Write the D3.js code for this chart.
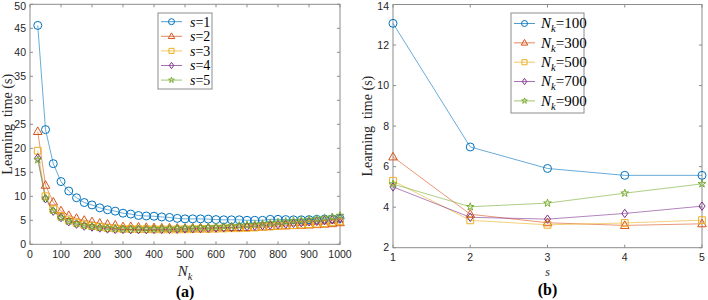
<!DOCTYPE html>
<html>
<head>
<meta charset="utf-8">
<script src="https://cdn.jsdelivr.net/npm/d3@7"></script>
<style>
  body { margin: 0; background: #fff; }
  svg { display: block; }
</style>
</head>
<body>
<div id="chart"></div>
<script>
// ---- data ----
const nkValues = d3.range(25, 1001, 25);
const s1 = [45.6, 23.9, 16.8, 13.07, 11.1, 9.7, 8.7, 8.2, 7.6, 7.2, 6.9, 6.48, 6.3, 6.0, 5.9, 5.85, 5.7, 5.6, 5.4, 5.3, 5.3, 5.3, 5.25, 5.15, 5.1, 5.1, 5.1, 5.0, 5.0, 5.0, 5.2, 5.2, 5.15, 5.1, 5.1, 5.14, 5.2, 5.25, 5.3, 5.4];
const s2 = [23.5, 12.3, 8.8, 6.97, 6.0, 5.4, 5.0, 4.7, 4.4, 4.2, 4.0, 3.65, 3.7, 3.6, 3.5, 3.45, 3.4, 3.4, 3.35, 3.35, 3.4, 3.4, 3.4, 3.45, 3.45, 3.5, 3.5, 3.5, 3.55, 3.6, 3.7, 3.8, 3.85, 3.9, 3.95, 4.02, 4.1, 4.2, 4.3, 4.5];
const s3 = [19.5, 10.0, 7.3, 5.91, 5.0, 4.5, 4.1, 3.8, 3.6, 3.4, 3.3, 3.23, 3.2, 3.15, 3.15, 3.1, 3.1, 3.1, 3.1, 3.13, 3.15, 3.2, 3.2, 3.25, 3.3, 3.35, 3.35, 3.41, 3.5, 3.6, 3.7, 3.8, 3.9, 4.0, 4.1, 4.2, 4.3, 4.4, 4.6, 4.8];
const s4 = [18.0, 9.5, 6.9, 5.57, 4.7, 4.2, 3.8, 3.6, 3.4, 3.2, 3.1, 3.1, 3.05, 3.05, 3.05, 3.1, 3.1, 3.1, 3.15, 3.22, 3.25, 3.3, 3.35, 3.4, 3.45, 3.5, 3.6, 3.69, 3.8, 3.9, 4.0, 4.1, 4.2, 4.35, 4.5, 4.69, 4.8, 4.95, 5.1, 5.4];
const s5 = [17.6, 9.6, 7.0, 5.57, 4.8, 4.3, 3.9, 3.7, 3.5, 3.4, 3.3, 3.18, 3.2, 3.2, 3.2, 3.2, 3.25, 3.25, 3.3, 3.36, 3.4, 3.45, 3.55, 3.6, 3.7, 3.8, 3.9, 4.05, 4.15, 4.3, 4.45, 4.6, 4.75, 4.9, 5.0, 5.15, 5.3, 5.5, 5.7, 6.0];

const sValues = [1, 2, 3, 4, 5];
const nk100 = [13.07, 6.97, 5.91, 5.57, 5.57];
const nk300 = [6.48, 3.65, 3.23, 3.1, 3.18];
const nk500 = [5.3, 3.35, 3.13, 3.22, 3.36];
const nk700 = [5.0, 3.5, 3.41, 3.69, 4.05];
const nk900 = [5.14, 4.02, 4.2, 4.69, 5.15];

const leftLegend = ['1', '2', '3', '4', '5'];
const rightLegend = ['100', '300', '500', '700', '900'];
const leftXTicks = d3.range(0, 1001, 100);
const leftYTicks = d3.range(0, 51, 5);
const rightXTicks = [1, 2, 3, 4, 5];
const rightYTicks = [2, 4, 6, 8, 10, 12, 14];

const colors = ['#0072BD', '#D95319', '#EDB120', '#7E2F8E', '#77AC30'];
const shapes = ['circle', 'triangle', 'square', 'diamond', 'star'];

const SANS = "'Liberation Sans', Arial, Helvetica, sans-serif";
const SERIF = "'Liberation Serif', 'Times New Roman', Times, serif";

const W = 708, H = 300;
const svg = d3.select('#chart').append('svg').attr('width', W).attr('height', H);

// marker outlines (scaled by r)
function marker(g, shape, x, y, r, color) {
  let d;
  const k = r / 4;
  if (shape === 'circle') {
    g.append('circle').attr('cx', x).attr('cy', y).attr('r', r)
      .attr('fill', 'none').attr('stroke', color).attr('stroke-width', 1);
    return;
  } else if (shape === 'triangle') {
    d = 'M0,-4.6L4.3,3L-4.3,3Z';
  } else if (shape === 'square') {
    d = 'M-3.4,-3.4H3.4V3.4H-3.4Z';
  } else if (shape === 'diamond') {
    d = 'M0,-4.2L3,0L0,4.2L-3,0Z';
  } else {
    d = d3.symbol().type(d3.symbolStar).size(18)();
  }
  g.append('path').attr('d', d)
    .attr('transform', `translate(${x},${y}) scale(${k})`)
    .attr('fill', 'none').attr('stroke', color).attr('stroke-width', 1 / k);
}

function panel(o) {
  const g = svg.append('g');
  const x = d3.scaleLinear().domain(o.xDomain).range([o.x0, o.x1]);
  const y = d3.scaleLinear().domain(o.yDomain).range([o.y1, o.y0]);
  const axisColor = '#8c8c8c', tickTxt = '#262626';

  g.append('rect').attr('x', o.x0).attr('y', o.y0)
    .attr('width', o.x1 - o.x0).attr('height', o.y1 - o.y0)
    .attr('fill', 'none').attr('stroke', axisColor).attr('stroke-width', 1);

  const tl = 3;
  o.xTicks.forEach(t => {
    const px = x(t);
    g.append('line').attr('x1', px).attr('x2', px).attr('y1', o.y1).attr('y2', o.y1 - tl).attr('stroke', axisColor);
    g.append('line').attr('x1', px).attr('x2', px).attr('y1', o.y0).attr('y2', o.y0 + tl).attr('stroke', axisColor);
    g.append('text').attr('x', px).attr('y', o.y1 + 13.5).attr('text-anchor', 'middle')
      .style('font-family', SANS).attr('font-size', 10.5)
      .attr('fill', tickTxt).text(t);
  });
  o.yTicks.forEach(t => {
    const py = y(t);
    g.append('line').attr('x1', o.x0).attr('x2', o.x0 + tl).attr('y1', py).attr('y2', py).attr('stroke', axisColor);
    g.append('line').attr('x1', o.x1).attr('x2', o.x1 - tl).attr('y1', py).attr('y2', py).attr('stroke', axisColor);
    g.append('text').attr('x', o.x0 - 4).attr('y', Math.max(py + 3.7, 9.5)).attr('text-anchor', 'end')
      .style('font-family', SANS).attr('font-size', 10.5)
      .attr('fill', tickTxt).text(t);
  });

  const line = d3.line().x((d, i) => x(o.xs[i])).y(d => y(d));
  o.series.forEach((s, k) => {
    g.append('path').attr('d', line(s)).attr('fill', 'none')
      .attr('stroke', colors[k]).attr('stroke-width', 0.7).attr('stroke-opacity', 0.85);
  });
  o.series.forEach((s, k) => {
    s.forEach((v, i) => marker(g, shapes[k], x(o.xs[i]), y(v), o.mr, colors[k]));
  });

  g.append('text')
    .attr('transform', `translate(${o.ylabX},${(o.y0 + o.y1) / 2}) rotate(-90)`)
    .attr('text-anchor', 'middle').style('font-family', SERIF)
    .attr('font-size', 14).attr('fill', '#262626').style('white-space', 'pre').text('Learning  time (s)');
  const xl = g.append('text').attr('x', (o.x0 + o.x1) / 2).attr('y', o.xlabY)
    .attr('text-anchor', 'middle').style('font-family', SERIF)
    .attr('font-size', o.xlabSize).attr('font-style', 'italic').attr('fill', '#262626');
  xl.append('tspan').text(o.xlab);
  if (o.xlabSub) xl.append('tspan').attr('dy', 4).attr('font-size', o.xlabSize * 0.7).text(o.xlabSub);

  g.append('text').attr('x', (o.x0 + o.x1) / 2).attr('y', o.capY)
    .attr('text-anchor', 'middle').style('font-family', SERIF)
    .attr('font-size', 16).attr('font-weight', 'bold').attr('fill', '#000').text(o.caption);

  const L = o.legend;
  g.append('rect').attr('x', L.x).attr('y', L.y).attr('width', L.w).attr('height', L.h)
    .attr('fill', '#fff').attr('stroke', axisColor).attr('stroke-width', 1);
  o.legendLabels.forEach((lab, k) => {
    const cy = L.y + L.first + k * L.step;
    g.append('line').attr('x1', L.x + 3).attr('x2', L.x + 3 + L.lineW).attr('y1', cy).attr('y2', cy)
      .attr('stroke', colors[k]).attr('stroke-width', 0.7);
    marker(g, shapes[k], L.x + 3 + L.lineW / 2, cy, L.mr, colors[k]);
    const t = g.append('text').attr('x', L.x + L.textX).attr('y', cy + 4.8)
      .style('font-family', SERIF).attr('font-size', L.fs).attr('fill', '#000');
    if (o.legendSub) {
      t.append('tspan').attr('font-style', 'italic').text('N');
      t.append('tspan').attr('font-style', 'italic').attr('dy', 4).attr('font-size', L.fs * 0.7).text('k');
      t.append('tspan').attr('dy', -4).text('=' + lab);
    } else {
      t.append('tspan').attr('font-style', 'italic').text('s');
      t.append('tspan').text('=' + lab);
    }
  });
}

panel({
  x0: 30, x1: 340, y0: 4.3, y1: 244.3,
  xDomain: [0, 1000], yDomain: [0, 50],
  xTicks: leftXTicks, yTicks: leftYTicks,
  xs: nkValues, series: [s1, s2, s3, s4, s5], mr: 4,
  ylabX: 12, xlabY: 276, xlab: 'N', xlabSub: 'k', xlabSize: 15,
  capY: 297, caption: '(a)',
  legendLabels: leftLegend, legendSub: false,
  legend: { x: 158, y: 13, w: 54, h: 76, first: 8.7, step: 14.6, lineW: 21, mr: 3, textX: 32, fs: 14 }
});

panel({
  x0: 393, x1: 702, y0: 4.5, y1: 247.7,
  xDomain: [1, 5], yDomain: [2, 14],
  xTicks: rightXTicks, yTicks: rightYTicks,
  xs: sValues, series: [nk100, nk300, nk500, nk700, nk900], mr: 4,
  ylabX: 372, xlabY: 276, xlab: 's', xlabSub: null, xlabSize: 12,
  capY: 295, caption: '(b)',
  legendLabels: rightLegend, legendSub: true,
  legend: { x: 511, y: 13, w: 73, h: 100, first: 10.5, step: 19.35, lineW: 21, mr: 3, textX: 30, fs: 15 }
});
</script>
</body>
</html>
